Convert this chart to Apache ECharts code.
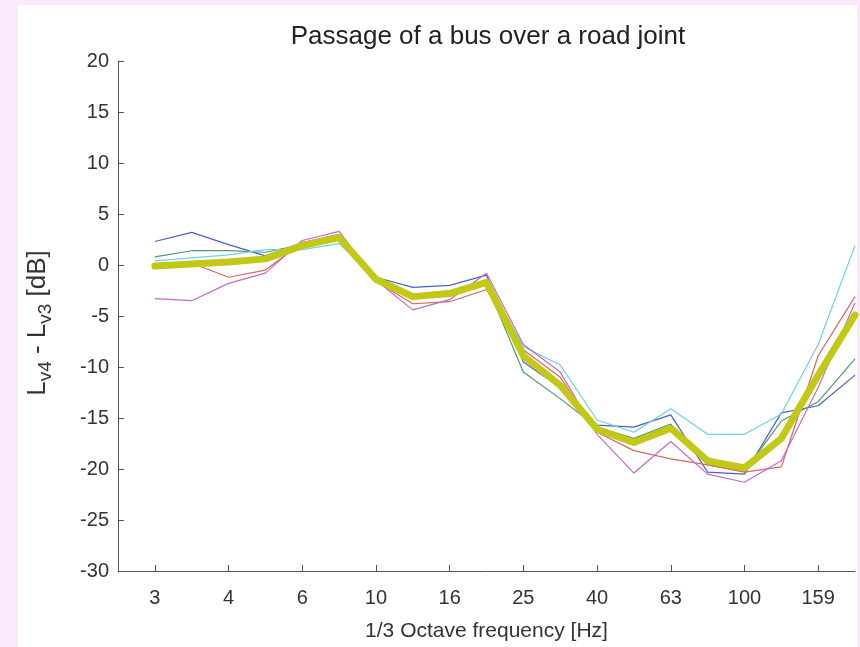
<!DOCTYPE html>
<html><head><meta charset="utf-8">
<script src="https://cdn.jsdelivr.net/npm/echarts@6/dist/echarts.min.js"></script>
<style>
html,body{margin:0;padding:0;width:860px;height:647px;background:#fce8fb;overflow:hidden}
#panel{position:absolute;left:18px;top:5px;width:839px;height:642px;background:#fff}
#chart{position:absolute;left:0;top:0;width:860px;height:647px}
</style></head><body><div id="panel"></div><div id="chart"></div>
<script>
// 1/3 octave band index (0..19) and the labels shown on every second band
const bandIndex = [0,1,2,3,4,5,6,7,8,9,10,11,12,13,14,15,16,17,18,19];
const tickIndex = [0,2,4,6,8,10,12,14,16,18];
const tickLabels = ['3','4','6','10','16','25','40','63','100','159'];

const blueVals    = [2.3, 3.2, 2.0, 0.9, 2.2, 2.6, -1.2, -2.2, -2.0, -1.0, -9.5, -12.0, -15.7, -15.9, -14.7, -20.3, -20.5, -14.5, -13.8, -10.8];
const greenVals   = [0.8, 1.4, 1.4, 1.25, 2.0, 2.5, -1.5, -3.0, -2.6, -1.9, -10.5, -13.1, -15.9, -17.0, -15.6, -19.6, -20.2, -15.3, -13.4, -9.2];
const cyanVals    = [0.4, 0.7, 1.0, 1.5, 1.5, 2.1, -1.3, -2.9, -2.5, -1.5, -8.0, -9.8, -15.2, -16.4, -14.1, -16.6, -16.6, -14.6, -7.8, 1.9];
const redVals     = [0.0, 0.2, -1.2, -0.5, 2.2, 3.0, -1.6, -3.8, -3.6, -2.4, -8.3, -11.0, -16.4, -18.2, -19.0, -19.6, -20.3, -19.8, -8.9, -3.1];
const magentaVals = [-3.3, -3.5, -1.8, -0.8, 2.4, 3.3, -1.5, -4.4, -3.4, -0.8, -7.8, -10.5, -16.6, -20.4, -17.3, -20.5, -21.3, -19.2, -12.0, -3.7];
const meanVals    = [-0.1, 0.1, 0.3, 0.6, 1.9, 2.7, -1.4, -3.1, -2.8, -1.7, -8.9, -11.8, -16.1, -17.4, -16.0, -19.2, -19.9, -17.0, -10.8, -4.9];

const pairs = vals => vals.map((v, i) => [bandIndex[i], v]);
const FONT = 'Liberation Sans, Arial, sans-serif';
const AX = '#555';

function thin(name, vals, color) {
  return { name, type: 'line', data: pairs(vals), symbol: 'none', silent: true,
    lineStyle: { color, width: 1.2 }, z: 2 };
}

const chart = echarts.init(document.getElementById('chart'), null, { renderer: 'canvas' });
chart.setOption({
  animation: false,
  backgroundColor: 'transparent',
  title: {
    text: 'Passage of a bus over a road joint',
    left: 483, top: 19, textAlign: 'center',
    textStyle: { fontFamily: FONT, fontSize: 26, fontWeight: 'normal', color: '#222' }
  },
  grid: { left: 118, right: 5, top: 61, bottom: 65 },
  xAxis: {
    type: 'value', min: -1, max: 19,
    name: '1/3 Octave frequency [Hz]', nameLocation: 'middle', nameGap: 50,
    nameTextStyle: { fontFamily: FONT, fontSize: 21, color: '#333' },
    axisLine: { onZero: false, lineStyle: { color: AX, width: 1 } },
    axisTick: { inside: true, length: 6, customValues: tickIndex, lineStyle: { color: AX } },
    axisLabel: { customValues: tickIndex, margin: 17, fontFamily: FONT, fontSize: 20, color: '#333',
      formatter: v => tickLabels[tickIndex.indexOf(v)] },
    splitLine: { show: false }
  },
  yAxis: {
    type: 'value', min: -30, max: 20, interval: 5,
    name: '{n|L}{s|v4}{n| - L}{s|v3}{n| [dB]}', nameLocation: 'middle', nameGap: 63, nameRotate: 90,
    nameTextStyle: { fontFamily: FONT, color: '#333', lineHeight: 30, padding: [0, 14, 0, 0],
      rich: {
        n: { fontFamily: FONT, fontSize: 26, color: '#333', verticalAlign: 'top', lineHeight: 30 },
        s: { fontFamily: FONT, fontSize: 19, color: '#333', verticalAlign: 'bottom', lineHeight: 30 }
      } },
    axisLine: { show: true, onZero: false, lineStyle: { color: AX, width: 1 } },
    axisTick: { show: true, inside: true, length: 6, lineStyle: { color: AX } },
    axisLabel: { margin: 9, fontFamily: FONT, fontSize: 20, color: '#333' },
    splitLine: { show: false }
  },
  series: [
    thin('blue', blueVals, '#4d5fc6'),
    thin('green', greenVals, '#4f9a6c'),
    thin('red', redVals, '#d9665f'),
    thin('cyan', cyanVals, '#6ed2e2'),
    thin('magenta', magentaVals, '#c26ac8'),
    { name: 'mean', type: 'line', data: pairs(meanVals), symbol: 'none', silent: true,
      lineStyle: { color: '#c2c816', width: 7, join: 'round', cap: 'round' }, z: 3 }
  ]
});
</script></body></html>
